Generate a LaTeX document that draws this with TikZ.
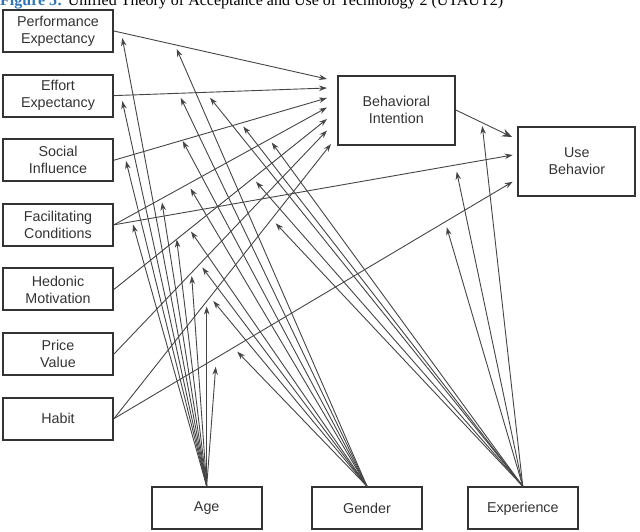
\documentclass[tikz,border=0pt]{standalone}
\usepackage{fontspec}
\setmainfont{Liberation Sans}
\newfontfamily\captionfont{Liberation Serif}
\usetikzlibrary{arrows.meta}
\definecolor{boxgray}{HTML}{333333}
\definecolor{linegray}{HTML}{454545}
\definecolor{figblue}{HTML}{2E75B6}

\begin{document}
\begin{tikzpicture}[x=1pt,y=-1pt]
	\path [use as bounding box] (0,0) rectangle (640,531);
	\tikzstyle{construct} = [draw=boxgray, line width=2pt, minimum width=110pt, minimum height=42pt, align=center, text=boxgray, font=\fontsize{14.3}{17}\selectfont]
	\tikzstyle{link} = [draw=linegray, line width=0.9pt, -{Stealth[length=8pt,width=5.5pt]}]
	\tikzstyle{moderator} = [link]
	% caption, cut at the top edge
	\node[anchor=base west, inner sep=0pt, font=\captionfont\fontsize{16}{16}\selectfont] (title) at (0,5.5) {\textcolor{figblue}{\bfseries Figure 5:} Unified Theory of Acceptance and Use of Technology 2 (UTAUT2)};
	% constructs
	\node[construct] (pe) at (58,31) {Performance\\Expectancy};
	\node[construct] (ee) at (58,95.6) {Effort\\Expectancy};
	\node[construct] (si) at (58,160.2) {Social\\Influence};
	\node[construct] (fc) at (58,224.8) {Facilitating\\Conditions};
	\node[construct] (hm) at (58,289.4) {Hedonic\\Motivation};
	\node[construct] (pv) at (58,354) {Price\\Value};
	\node[construct] (ht) at (58,418.6) {Habit};
	\node[construct, minimum width=117pt, minimum height=69pt] (bi) at (396.3,110) {Behavioral\\Intention};
	\node[construct, minimum width=117pt, minimum height=69pt] (ub) at (576.8,161.2) {Use\\Behavior};
	\node[construct] (age) at (206.7,508.3) {Age};
	\node[construct] (gender) at (367,508.3) {Gender};
	\node[construct] (exp) at (522.8,508.3) {Experience};
	% arrow ends at the dependent constructs
	\coordinate (bi-pe) at (327,79);
	\coordinate (bi-ee) at (327,88);
	\coordinate (bi-si) at (327,98);
	\coordinate (bi-fc) at (327,107.5);
	\coordinate (bi-hm) at (327,119);
	\coordinate (bi-pv) at (327,130.5);
	\coordinate (bi-ht) at (331,144);
	\coordinate (ub-bi) at (512,137);
	\coordinate (ub-fc) at (512.7,155);
	\coordinate (ub-ht) at (512.7,181.7);
	% direct effects
	\draw[link] (pe.east) -- (bi-pe);
	\draw[link] (ee.east) -- (bi-ee);
	\draw[link] (si.east) -- (bi-si);
	\draw[link] (fc.east) -- (bi-fc);
	\draw[link] (hm.east) -- (bi-hm);
	\draw[link] (pv.east) -- (bi-pv);
	\draw[link] (ht.east) -- (bi-ht);
	\draw[link] (fc.east) -- (ub-fc);
	\draw[link] (ht.east) -- (ub-ht);
	\draw[link, -{Stealth[length=10pt,width=8pt]}] (bi.east) -- (ub-bi);
	% moderator arrow tips
	\coordinate (age-pe) at (122.3,38);
	\coordinate (gen-pe) at (176.7,49);
	\coordinate (age-ee) at (122.3,101);
	\coordinate (gen-ee) at (180.7,97.7);
	\coordinate (exp-ee) at (210,97.7);
	\coordinate (age-si) at (126,161);
	\coordinate (gen-si) at (182.7,141);
	\coordinate (exp-si) at (243.3,126.5);
	\coordinate (age-fcbi) at (162,202.5);
	\coordinate (gen-fcbi) at (190.5,188.5);
	\coordinate (exp-fcbi) at (271.7,142.5);
	\coordinate (age-fcub) at (133,224.5);
	\coordinate (exp-fcub) at (456.7,171.7);
	\coordinate (age-hm) at (176.7,239.5);
	\coordinate (gen-hm) at (191,231.5);
	\coordinate (exp-hm) at (256,181.7);
	\coordinate (age-pv) at (191.7,276);
	\coordinate (gen-pv) at (202.3,267.5);
	\coordinate (age-htbi) at (206.7,306.5);
	\coordinate (gen-htbi) at (213.3,301);
	\coordinate (exp-htbi) at (275.7,223.3);
	\coordinate (age-htub) at (215.7,366.7);
	\coordinate (gen-htub) at (237.3,351.7);
	\coordinate (exp-htub) at (446.7,227.3);
	\coordinate (exp-biub) at (482.3,126);
	% age
	\draw[moderator] (age.north) -- (age-pe);
	\draw[moderator] (age.north) -- (age-ee);
	\draw[moderator] (age.north) -- (age-si);
	\draw[moderator] (age.north) -- (age-fcbi);
	\draw[moderator] (age.north) -- (age-fcub);
	\draw[moderator] (age.north) -- (age-hm);
	\draw[moderator] (age.north) -- (age-pv);
	\draw[moderator] (age.north) -- (age-htbi);
	\draw[moderator] (age.north) -- (age-htub);
	% gender
	\draw[moderator] (gender.north) -- (gen-pe);
	\draw[moderator] (gender.north) -- (gen-ee);
	\draw[moderator] (gender.north) -- (gen-si);
	\draw[moderator] (gender.north) -- (gen-fcbi);
	\draw[moderator] (gender.north) -- (gen-hm);
	\draw[moderator] (gender.north) -- (gen-pv);
	\draw[moderator] (gender.north) -- (gen-htbi);
	\draw[moderator] (gender.north) -- (gen-htub);
	% experience
	\draw[moderator] (exp.north) -- (exp-ee);
	\draw[moderator] (exp.north) -- (exp-si);
	\draw[moderator] (exp.north) -- (exp-fcbi);
	\draw[moderator] (exp.north) -- (exp-fcub);
	\draw[moderator] (exp.north) -- (exp-hm);
	\draw[moderator] (exp.north) -- (exp-htbi);
	\draw[moderator] (exp.north) -- (exp-htub);
	\draw[moderator] (exp.north) -- (exp-biub);
\end{tikzpicture}
\end{document}
